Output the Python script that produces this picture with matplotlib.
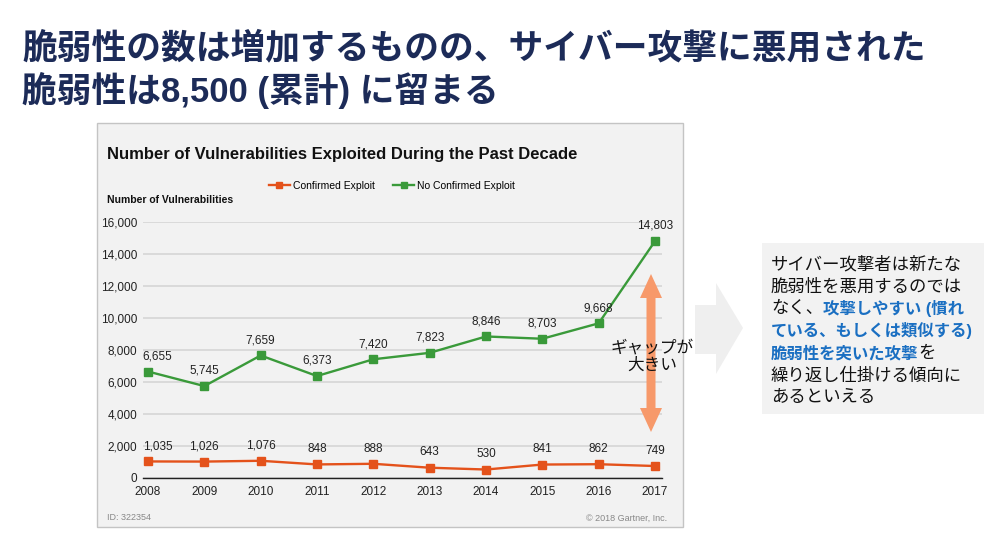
import matplotlib.pyplot as plt
from matplotlib.patches import Rectangle, Polygon
from matplotlib.lines import Line2D

# Datos
years = [2008, 2009, 2010, 2011, 2012, 2013, 2014, 2015, 2016, 2017]
confirmed = [1035, 1026, 1076, 848, 888, 643, 530, 841, 862, 749]
no_confirmed = [6655, 5745, 7659, 6373, 7420, 7823, 8846, 8703, 9668, 14803]
yticks = [0, 2000, 4000, 6000, 8000, 10000, 12000, 14000, 16000]

title_lines = ['脆弱性の数は増加するものの、サイバー攻撃に悪用された',
               '脆弱性は8,500 (累計) に留まる']
chart_title = 'Number of Vulnerabilities Exploited During the Past Decade'
series_names = ['Confirmed Exploit', 'No Confirmed Exploit']

W, H = 1000, 542
JP = ['Liberation Sans', 'Noto Sans CJK JP', 'DejaVu Sans']
EN = ['Liberation Sans', 'DejaVu Sans']
ORANGE = '#e4521b'
GREEN = '#3a9a3a'
NAVY = '#1c2b58'
BLUE = '#1a6fc2'

fig = plt.figure(figsize=(10, 5.42), dpi=100)
fig.patch.set_facecolor('white')


def fx(px):
    return px / W


def fy(py):
    return 1 - py / H


# Titulo
for i, t in enumerate(title_lines):
    fig.text(fx(22), fy(48 + 42 * i), t, fontsize=25, fontweight='bold',
             color=NAVY, family=JP, va='center', ha='left')

# Panel gris del grafico
fig.patches.append(Rectangle((fx(97), fy(527)), fx(683) - fx(97), fy(123) - fy(527),
                             transform=fig.transFigure, facecolor='#f2f2f2',
                             edgecolor='#c4c4c4', lw=1, zorder=0))

fig.text(fx(107), fy(155), chart_title, fontsize=12, fontweight='bold',
         family=EN, va='center', color='#111111')
fig.text(fx(107), fy(200), 'Number of Vulnerabilities', fontsize=7.5,
         fontweight='bold', family=EN, va='center', color='#111111')
fig.text(fx(107), fy(518), 'ID: 322354', fontsize=6.5, family=EN,
         va='center', color='#888888')
fig.text(fx(667), fy(518), '© 2018 Gartner, Inc.', fontsize=6.5, family=EN,
         va='center', ha='right', color='#888888')

# Ejes
left, right = 143, 662
ax = fig.add_axes([fx(left), fy(478), fx(right) - fx(left), fy(222) - fy(478)])
ax.set_zorder(2)
ax.set_facecolor('none')
px_year = (655 - 148) / 9
ax.set_xlim(2008 - 5 / px_year, 2017 + 7 / px_year)
ax.set_ylim(0, 16000)

ax.plot(years, confirmed, color=ORANGE, lw=1.7, marker='s', ms=5.5,
        label=series_names[0], zorder=3, clip_on=False)
ax.plot(years, no_confirmed, color=GREEN, lw=1.7, marker='s', ms=5.5,
        label=series_names[1], zorder=3, clip_on=False)

# etiquetas de valores (la primera se desplaza para no chocar con el eje)
for serie in (confirmed, no_confirmed):
    for i, (x, v) in enumerate(zip(years, serie)):
        dx = 7 if i == 0 else 0
        ax.annotate(f'{v:,}', (x, v), textcoords='offset points', xytext=(dx, 11),
                    ha='center', va='center', fontsize=8.5, family=EN, color='#222222')

ax.set_yticks(yticks)
ax.set_yticklabels([f'{v:,}' for v in yticks], family=EN, fontsize=8.5)
ax.set_xticks(years)
ax.set_xticklabels([str(y) for y in years], family=EN, fontsize=8.5)
ax.tick_params(length=0, pad=4, colors='#222222')
ax.tick_params(axis='x', pad=6)
ax.grid(axis='y', color='#d6d6d6', lw=1.2)
ax.set_axisbelow(True)
for s in ['top', 'right', 'left']:
    ax.spines[s].set_visible(False)
ax.spines['bottom'].set_color('#222222')
ax.spines['bottom'].set_linewidth(1)

leg = fig.legend(handles=[Line2D([], [], color=ORANGE, lw=1.7, marker='s', ms=4),
                          Line2D([], [], color=GREEN, lw=1.7, marker='s', ms=4)],
                 labels=series_names, loc='center', bbox_to_anchor=(fx(392), fy(186)),
                 ncol=2, frameon=False, prop={'family': EN, 'size': 7.5},
                 handlelength=2.0, handletextpad=0.3, columnspacing=1.8)
leg.set_zorder(3)

# Flecha doble naranja
cx = 651
hw, sw = 11, 4.5
top, tb, bb, bot = 274, 298, 408, 432
pts = [(cx, top), (cx + hw, tb), (cx + sw, tb), (cx + sw, bb), (cx + hw, bb),
       (cx, bot), (cx - hw, bb), (cx - sw, bb), (cx - sw, tb), (cx - hw, tb)]
fig.patches.append(Polygon([(fx(a), fy(b)) for a, b in pts], closed=True,
                           transform=fig.transFigure, facecolor='#f7996a',
                           edgecolor='none', zorder=4))
fig.text(fx(652), fy(356), 'ギャップが\n大きい', fontsize=12, family=JP,
         ha='center', va='center', linespacing=1.15, color='#111111', zorder=6)

# Flecha gris grande
pts = [(695, 305), (716, 305), (716, 283), (743, 328), (716, 374), (716, 354), (695, 354)]
fig.patches.append(Polygon([(fx(a), fy(b)) for a, b in pts], closed=True,
                           transform=fig.transFigure, facecolor='#efefef',
                           edgecolor='none', zorder=1))

# Cuadro de texto
fig.patches.append(Rectangle((fx(762), fy(414)), fx(984) - fx(762), fy(243) - fy(414),
                             transform=fig.transFigure, facecolor='#f2f2f2',
                             edgecolor='none', zorder=1))
box_lines = [
    [('サイバー攻撃者は新たな', False)],
    [('脆弱性を悪用するのでは', False)],
    [('なく、', False), ('攻撃しやすい (慣れ', True)],
    [('ている、もしくは類似する)', True)],
    [('脆弱性を突いた攻撃', True), ('を', False)],
    [('繰り返し仕掛ける傾向に', False)],
    [('あるといえる', False)],
]
for i, segs in enumerate(box_lines):
    prev = None
    for txt, hi in segs:
        kw = dict(fontsize=11.8 if hi else 12.5, family=JP, va='center', ha='left',
                  color=BLUE if hi else '#111111',
                  fontweight='bold' if hi else 'normal', zorder=5)
        if prev is None:
            prev = fig.text(fx(771), fy(264 + 22.3 * i), txt, **kw)
        else:
            prev = fig.add_artist(plt.Annotation(txt, xy=(1, 0.5), xycoords=prev,
                                                 xytext=(0, 0), textcoords='offset points',
                                                 **kw))

fig.savefig('out.png', dpi=100)
